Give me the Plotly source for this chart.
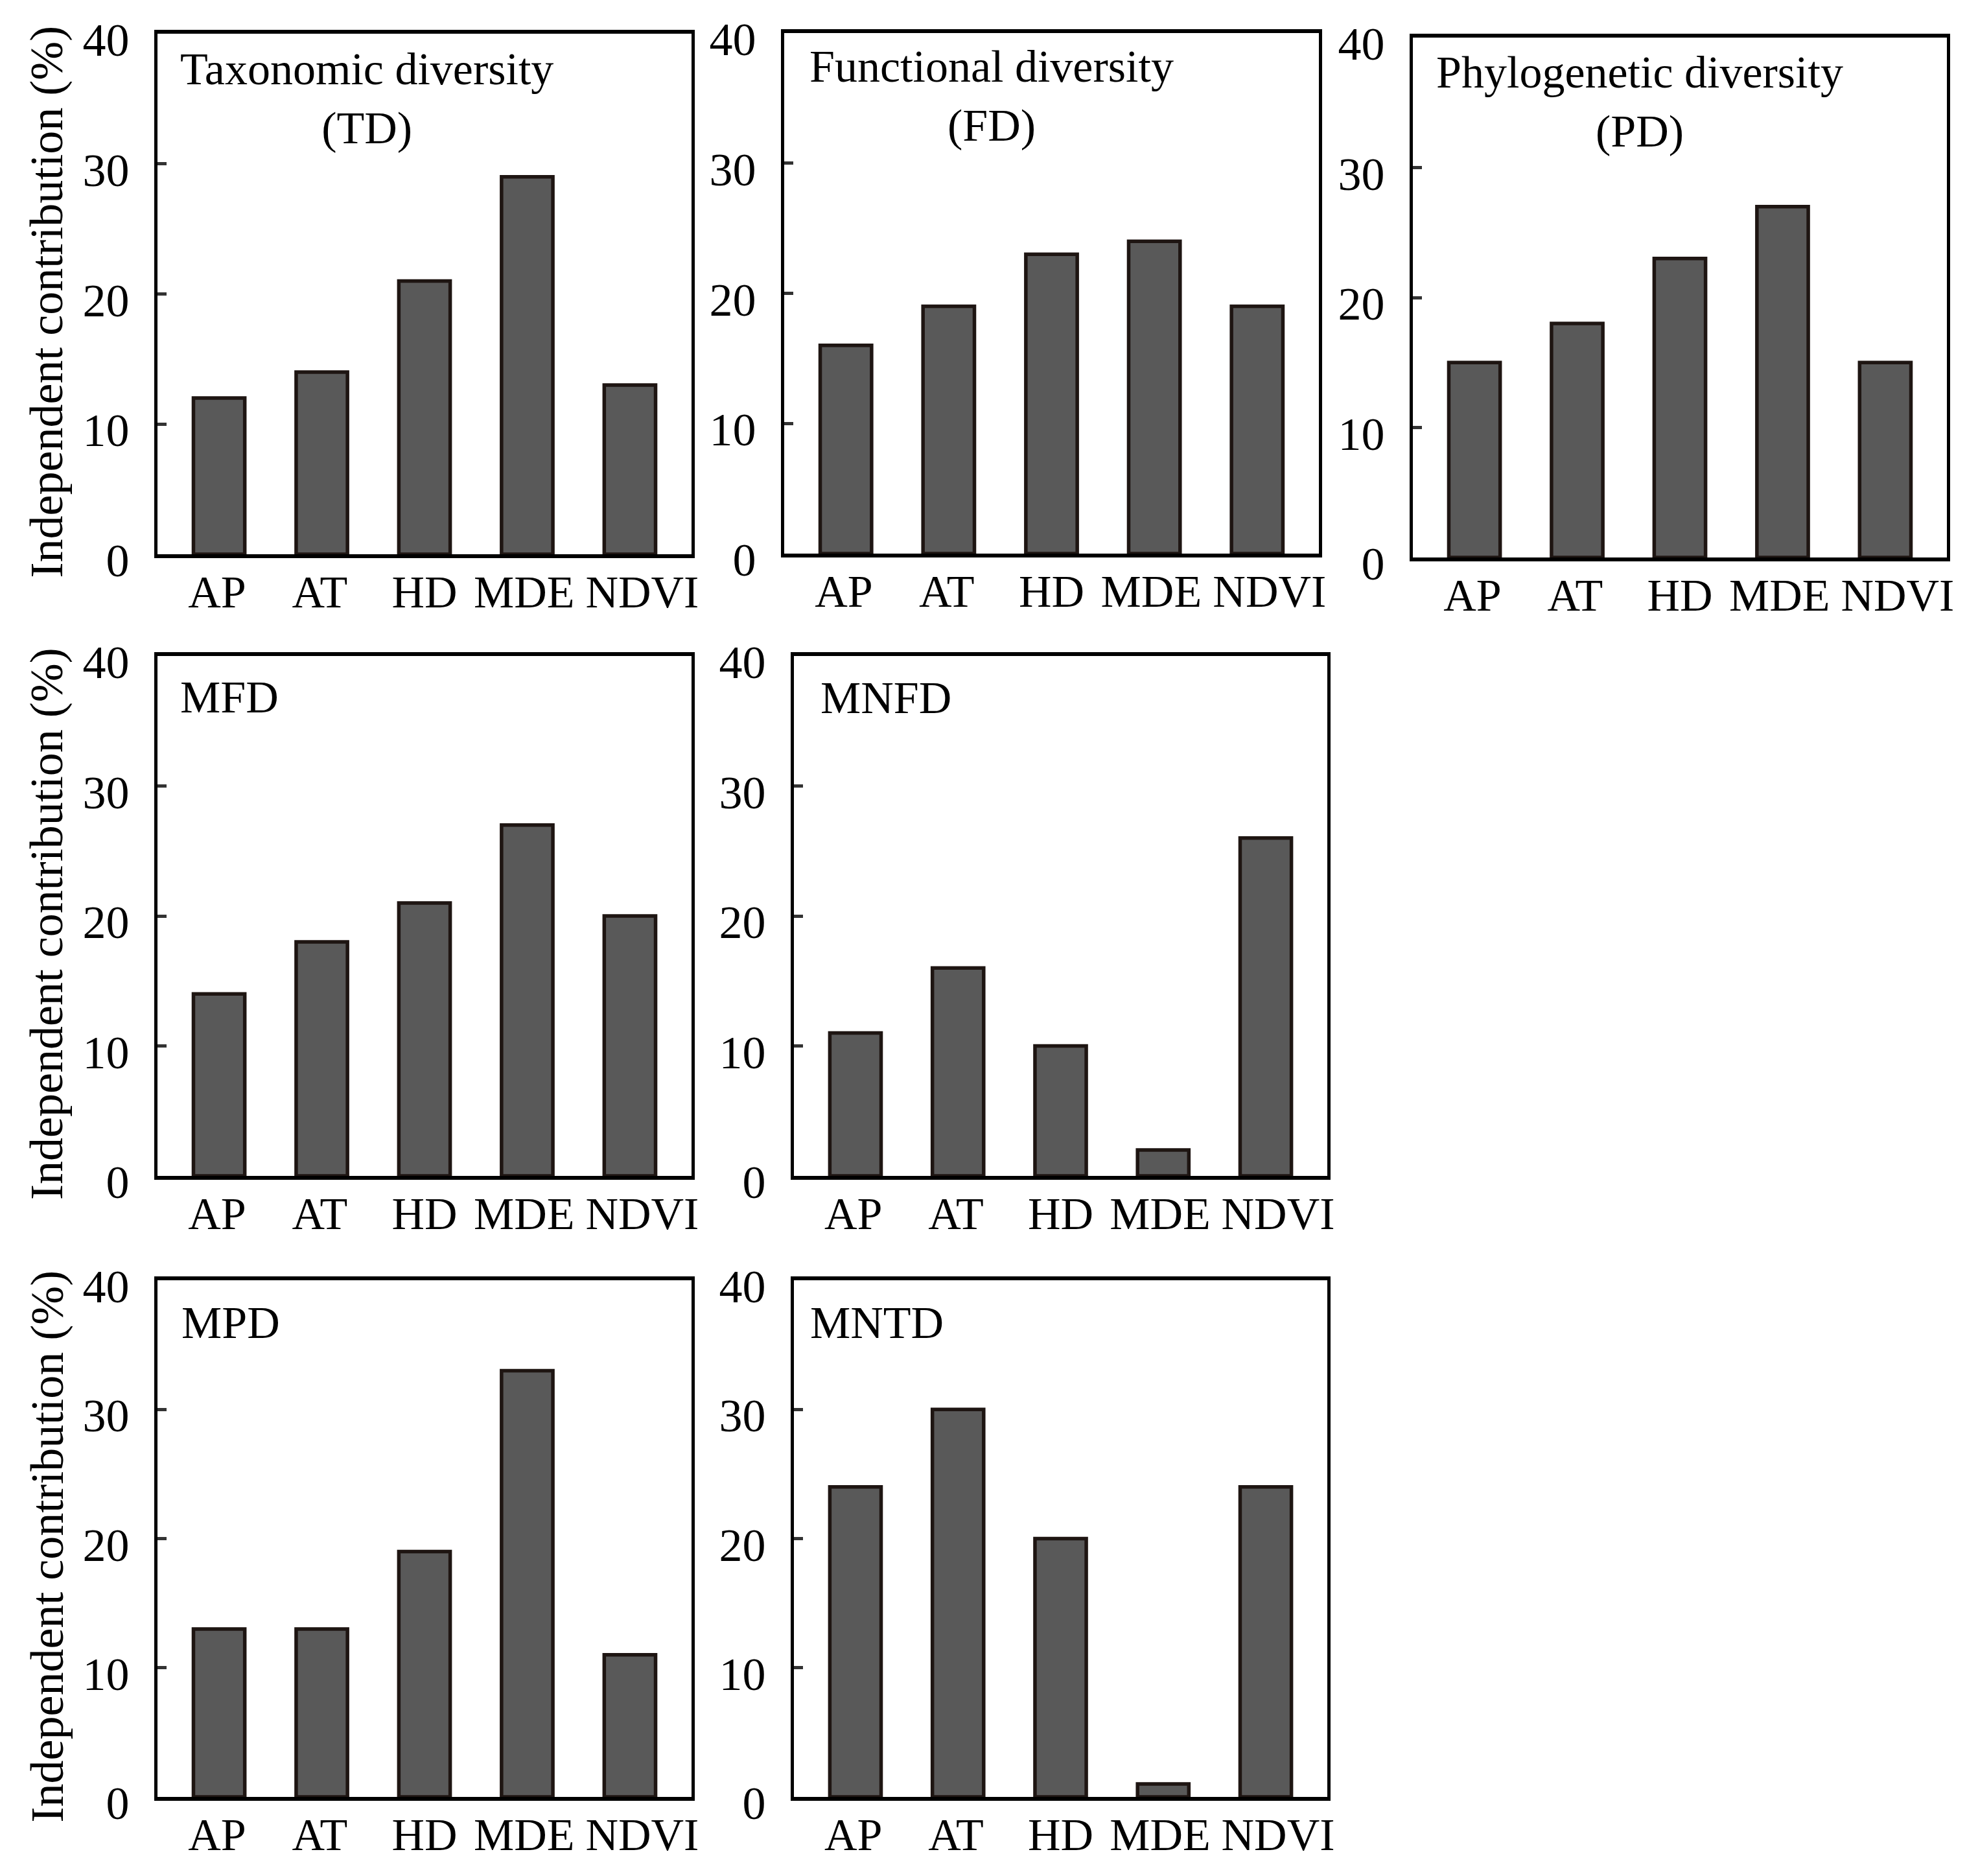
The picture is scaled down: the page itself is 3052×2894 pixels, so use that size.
import plotly.graph_objects as go

# predictors on the x axis
predictors = ["AP", "AT", "HD", "MDE", "NDVI"]
# where each predictor label sits (the NDVI label is nudged right, as in the figure)
label_pos = [-0.02, -0.02, 0.0, -0.03, 0.12]

# independent contribution (%) per diversity index
td = [12, 14, 21, 29, 13]
fd = [16, 19, 23, 24, 19]
pd_ = [15, 18, 23, 27, 15]
mfd = [14, 18, 21, 27, 20]
mnfd = [11, 16, 10, 2, 26]
mpd = [13, 13, 19, 33, 11]
mntd = [24, 30, 20, 1, 24]

panel_titles = ["Taxonomic diversity<br>(TD)", "Functional diversity<br>(FD)",
                "Phylogenetic diversity<br>(PD)", "MFD", "MNFD", "MPD", "MNTD"]
panel_values = [td, fd, pd_, mfd, mnfd, mpd, mntd]

y_ticks = [0, 10, 20, 30, 40]
y_title = "Independent contribution (%)"

# page size and the 8px body margin of the html page
PAGE_W, PAGE_H = 3052, 2894
OFF = 8
W, H = PAGE_W - 2 * OFF, PAGE_H - 2 * OFF
FONT = "Liberation Serif"

# panel boxes in page pixels: (left, right, top, bottom)
boxes = [
    (243, 1067, 52, 855),
    (1210, 2035, 51, 854),
    (2180, 3004, 58, 860),
    (243, 1067, 1012, 1814),
    (1225, 2048, 1012, 1814),
    (243, 1067, 1975, 2772),
    (1225, 2048, 1975, 2772),
]
# title anchor in domain coords (x left, y middle)
title_pos = [(0.040, 0.875), (0.045, 0.879), (0.041, 0.877),
             (0.040, 0.921), (0.047, 0.919), (0.043, 0.918), (0.028, 0.918)]


def px_x(p):
    return (p - OFF) / W


def px_y(p):
    return 1 - (p - OFF) / H


fig = go.Figure()
layout = {}
annotations = []

for i, (vals, box) in enumerate(zip(panel_values, boxes)):
    n = "" if i == 0 else str(i + 1)
    l, r, t, b = box
    fig.add_trace(go.Bar(
        x=list(range(len(predictors))), y=vals,
        width=0.5,
        marker=dict(color="#595959", line=dict(color="#1e1512", width=5.5)),
        xaxis="x" + n, yaxis="y" + n, showlegend=False,
    ))
    layout["xaxis" + n] = dict(
        domain=[px_x(l), px_x(r)], anchor="y" + n, automargin=False,
        range=[-0.6, 4.6], tickvals=[k + d for k, d in enumerate(label_pos)],
        ticktext=predictors, tickangle=0,
        showline=True, mirror=True, linecolor="black", linewidth=5.5,
        ticks="", showgrid=False, zeroline=False,
        tickfont=dict(family=FONT, size=70, color="black"),
        ticklabelstandoff=-8,
    )
    layout["yaxis" + n] = dict(
        domain=[px_y(b), px_y(t)], anchor="x" + n, automargin=False,
        range=[0, 40], tickvals=y_ticks,
        showline=True, mirror=True, linecolor="black", linewidth=5,
        ticks="inside", ticklen=14, tickwidth=5, tickcolor="#333",
        showgrid=False, zeroline=False,
        tickfont=dict(family=FONT, size=72, color="black"),
        ticklabelshift=9, ticklabelstandoff=24,
    )
    tx, ty = title_pos[i]
    annotations.append(dict(
        text=panel_titles[i], xref="x" + n + " domain", yref="y" + n + " domain",
        x=tx, y=ty, xanchor="left", yanchor="middle", align="center",
        showarrow=False, font=dict(family=FONT, size=70, color="black"),
    ))

# y axis titles on the left column
for box in [boxes[0], boxes[3], boxes[5]]:
    l, r, t, b = box
    annotations.append(dict(
        text=y_title, xref="paper", yref="paper",
        x=px_x(72), y=px_y((t + b) / 2 + 12),
        xanchor="center", yanchor="middle", textangle=-90,
        showarrow=False, font=dict(family=FONT, size=72, color="black"),
    ))

fig.update_layout(
    **layout,
    annotations=annotations,
    template="none",
    width=W, height=H,
    margin=dict(l=0, r=0, t=0, b=0),
    paper_bgcolor="white", plot_bgcolor="white",
)

fig.write_html("out.html")
